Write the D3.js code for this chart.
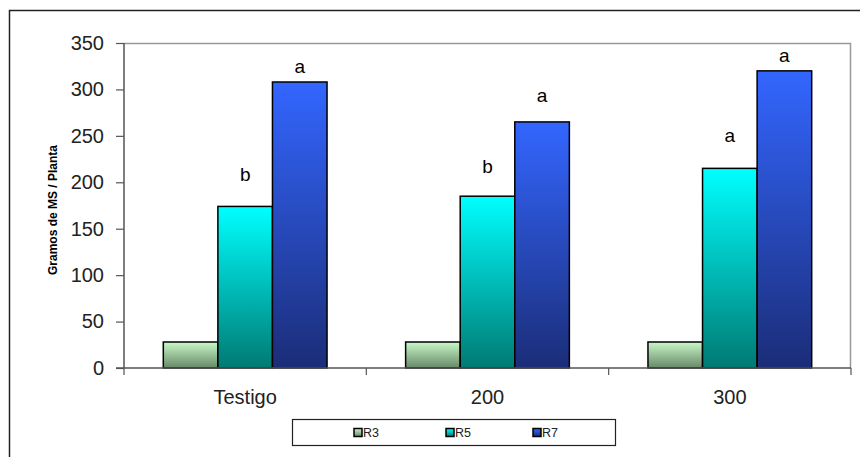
<!DOCTYPE html>
<html><head><meta charset="utf-8">
<script src="https://cdn.jsdelivr.net/npm/d3@7"></script>
<style>body{margin:0;background:#fff}svg{display:block;font-family:Arial,"Liberation Sans",sans-serif}</style>
</head><body><svg id="c" width="860" height="457"></svg>
<script>
const categories = ["Testigo", "200", "300"];
const seriesNames = ["R3", "R5", "R7"];
const R3 = [28, 28, 28];
const R5 = [174, 185, 215];
const R7 = [308, 265, 320];
const letters5 = ["b", "b", "a"];
const letters7 = ["a", "a", "a"];
// baseline heights of significance letters, in axis units
const letterPos5 = [201, 210, 243];
const letterPos7 = [318, 286, 330];
const yTicks = [0, 50, 100, 150, 200, 250, 300, 350];

const values = [R3, R5, R7];
const letters = [null, letters5, letters7];
const letterPos = [null, letterPos5, letterPos7];
const grads = [["#c8f8c8", "#688868"], ["#00ffff", "#007a73"], ["#3366ff", "#1b2d78"]];

const svg = d3.select("#c");
const defs = svg.append("defs");
grads.forEach((g, i) => {
  const lg = defs.append("linearGradient").attr("id", "g" + i).attr("x1", 0).attr("y1", 0).attr("x2", 0).attr("y2", 1);
  lg.append("stop").attr("offset", "0%").attr("stop-color", g[0]);
  lg.append("stop").attr("offset", "100%").attr("stop-color", g[1]);
});

// outer frame
svg.append("path").attr("d", "M9.5,457 V10.5 H860").attr("fill", "none").attr("stroke", "#222").attr("stroke-width", 1.5);

const L = 124, R = 851, T = 43, B = 368;
const x = d3.scaleBand().domain(categories).range([L, R]).paddingInner(0).paddingOuter(0);
const y = d3.scaleLinear().domain([0, 350]).range([B, T]);
const inner = d3.scaleBand().domain(seriesNames).range([0, x.bandwidth()]).paddingInner(0).paddingOuter(0.72);

// plot area frame (top/right)
svg.append("path").attr("d", `M${L},${T + 0.5} H${R - 0.5} V${B}`).attr("fill", "none").attr("stroke", "#999").attr("stroke-width", 1.5);

// bars
seriesNames.forEach((s, si) => {
  svg.append("g").selectAll("rect").data(categories).join("rect")
    .attr("x", c => x(c) + inner(s))
    .attr("y", (c, ci) => y(values[si][ci]))
    .attr("width", inner.bandwidth())
    .attr("height", (c, ci) => B - y(values[si][ci]))
    .attr("fill", `url(#g${si})`)
    .attr("stroke", "#000").attr("stroke-width", 1.5);
  if (letters[si]) {
    svg.append("g").selectAll("text").data(categories).join("text")
      .attr("x", c => x(c) + inner(s) + inner.bandwidth() / 2)
      .attr("y", (c, ci) => y(letterPos[si][ci]))
      .attr("text-anchor", "middle").attr("font-size", 19).attr("fill", "#000")
      .text((c, ci) => letters[si][ci]);
  }
});

// y axis
const ya = svg.append("g").attr("transform", `translate(${L},0)`)
  .call(d3.axisLeft(y).tickValues(yTicks).tickSize(8).tickPadding(12));
ya.select(".domain").attr("stroke", "#555").attr("stroke-width", 1.5).attr("d", `M0,${B}V${T}`);
ya.selectAll(".tick line").attr("stroke", "#555").attr("stroke-width", 1.2);
ya.selectAll(".tick text").attr("font-size", 20).attr("fill", "#222").attr("font-family", "Arial, Liberation Sans, sans-serif");

// x axis
const xa = svg.append("g").attr("transform", `translate(0,${B})`)
  .call(d3.axisBottom(x).tickSize(0).tickPadding(22));
xa.select(".domain").attr("stroke", "#555").attr("stroke-width", 1.5).attr("d", `M${L - 8},0H${R}`);
xa.selectAll(".tick text").attr("font-size", 20).attr("fill", "#222").attr("font-family", "Arial, Liberation Sans, sans-serif");
xa.append("g").selectAll("line").data(categories.concat(["end"])).join("line")
  .attr("x1", (d, i) => L + i * x.bandwidth()).attr("x2", (d, i) => L + i * x.bandwidth())
  .attr("y1", 0).attr("y2", 7).attr("stroke", "#555").attr("stroke-width", 1.2);

// y title
svg.append("text").attr("transform", "translate(57,210) rotate(-90)")
  .attr("text-anchor", "middle").attr("font-size", 12).attr("font-weight", "bold").attr("fill", "#000")
  .text("Gramos de MS / Planta");

// legend
svg.append("rect").attr("x", 292.5).attr("y", 419.5).attr("width", 323).attr("height", 26)
  .attr("fill", "#fff").attr("stroke", "#222").attr("stroke-width", 1.2);
const lx = [354, 446, 533];
seriesNames.forEach((s, i) => {
  svg.append("rect").attr("x", lx[i]).attr("y", 428.5).attr("width", 8).attr("height", 8)
    .attr("fill", `url(#g${i})`).attr("stroke", "#000").attr("stroke-width", 1.5);
  svg.append("text").attr("x", lx[i] + 9).attr("y", 437).attr("font-size", 12.5).attr("fill", "#222").text(s);
});
</script></body></html>
